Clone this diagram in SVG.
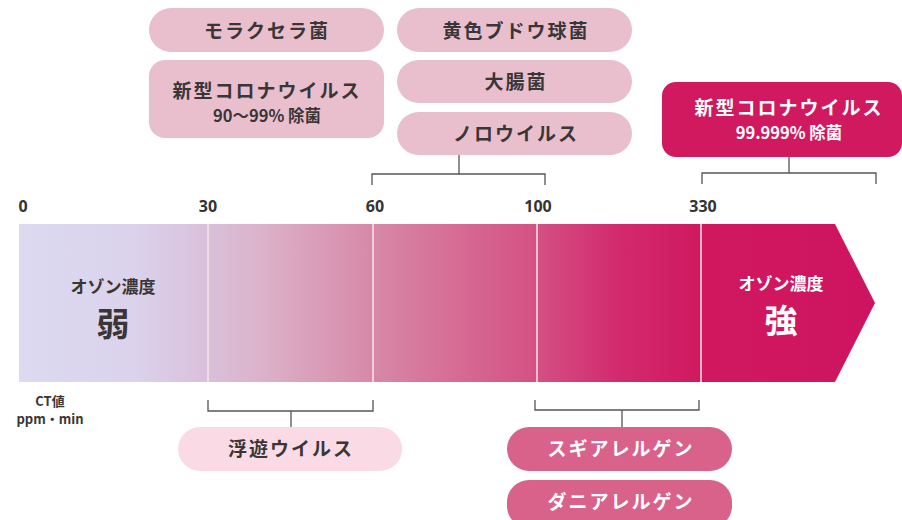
<svg xmlns="http://www.w3.org/2000/svg" width="902" height="520" viewBox="0 0 902 520">
<defs>
<linearGradient id="barg" x1="19" y1="0" x2="875" y2="0" gradientUnits="userSpaceOnUse">
<stop offset="0" stop-color="#dcd9f1"/>
<stop offset="0.13" stop-color="#dbd3ec"/>
<stop offset="0.22" stop-color="#d9c0da"/>
<stop offset="0.28" stop-color="#dcb3cb"/>
<stop offset="0.41" stop-color="#d78aa8"/>
<stop offset="0.5" stop-color="#d66f96"/>
<stop offset="0.6" stop-color="#d45284"/>
<stop offset="0.7" stop-color="#d22a6e"/>
<stop offset="0.8" stop-color="#d0185f"/>
<stop offset="1" stop-color="#ce1460"/>
</linearGradient>
<style>
text{font-family:"Noto Sans CJK JP","Noto Sans",sans-serif;font-weight:700;text-anchor:middle;}
.dk{fill:#3a3636;}
.wt{fill:#ffffff;}
.lb{font-size:19px;letter-spacing:2px;}
.sm{font-size:16.5px;}
.tick{font-size:16px;fill:#333;font-family:"Noto Sans","Liberation Sans",sans-serif;}
.br{fill:none;stroke:#555;stroke-width:1.3;}
.div{stroke:#f4e6ee;stroke-width:1.5;}
.p1{fill:#e9bfce;}
.p2{fill:#d0195f;}
.p3{fill:#fadbe5;}
.p4{fill:#d9628b;}
</style>
</defs>

<g id="bar">
<path d="M19 224 H835 L875 303 L835 382 H19 Z" fill="url(#barg)"/>
<line class="div" x1="208" y1="224" x2="208" y2="382"/>
<line class="div" x1="373" y1="224" x2="373" y2="382"/>
<line class="div" x1="537" y1="224" x2="537" y2="382"/>
<line class="div" x1="701" y1="224" x2="701" y2="382"/>
<text x="113" y="293" class="dk" font-size="17">オゾン濃度</text>
<text x="113" y="336" class="dk" font-size="33">弱</text>
<text x="781" y="290" class="wt" font-size="17">オゾン濃度</text>
<text x="781" y="333" class="wt" font-size="33">強</text>
</g>

<g id="ticks">
<text class="tick" x="23" y="212">0</text>
<text class="tick" x="208" y="212">30</text>
<text class="tick" x="375" y="212">60</text>
<text class="tick" x="538" y="212">100</text>
<text class="tick" x="703" y="212">330</text>
</g>

<g id="ct-label">
<text x="50" y="406" class="dk" font-size="13">CT値</text>
<text x="50" y="424" class="dk" font-size="13">ppm・min</text>
</g>

<g id="connectors">
<path class="br" d="M372 185 V174 H545 V185 M459 174 V155"/>
<path class="br" d="M702 184 V173 H876 V184 M789 173 V157"/>
<path class="br" d="M208 400 V411 H373 V400 M291 411 V427"/>
<path class="br" d="M535 400 V410 H699 V400 M622 410 V427"/>
</g>

<g id="moraxella">
<rect class="p1" x="149" y="8" width="235" height="44" rx="22"/>
<text x="267" y="38" class="dk lb">モラクセラ菌</text>
</g>
<g id="corona1">
<rect class="p1" x="149" y="60" width="235" height="78" rx="16"/>
<text x="267" y="98" class="dk lb">新型コロナウイルス</text>
<text x="267" y="122" class="dk sm">90〜99% 除菌</text>
</g>
<g id="staph">
<rect class="p1" x="397" y="8" width="235" height="44" rx="22"/>
<text x="516" y="38" class="dk lb">黄色ブドウ球菌</text>
</g>
<g id="ecoli">
<rect class="p1" x="397" y="60" width="235" height="43" rx="21.5"/>
<text x="516" y="89" class="dk lb">大腸菌</text>
</g>
<g id="noro">
<rect class="p1" x="397" y="112" width="235" height="43" rx="21.5"/>
<text x="516" y="141" class="dk lb">ノロウイルス</text>
</g>
<g id="corona2">
<rect class="p2" x="662" y="82" width="240" height="75" rx="14"/>
<text x="789" y="115" class="wt lb">新型コロナウイルス</text>
<text x="789" y="139" class="wt sm">99.999% 除菌</text>
</g>
<g id="airborne">
<rect class="p3" x="178" y="427" width="224" height="44" rx="22"/>
<text x="291" y="456" class="dk lb">浮遊ウイルス</text>
</g>
<g id="cedar">
<rect class="p4" x="507" y="427" width="225" height="44" rx="22"/>
<text x="621" y="456" class="wt lb">スギアレルゲン</text>
</g>
<g id="mite">
<rect class="p4" x="507" y="480" width="225" height="48" rx="22"/>
<text x="621" y="509" class="wt lb">ダニアレルゲン</text>
</g>
</svg>
